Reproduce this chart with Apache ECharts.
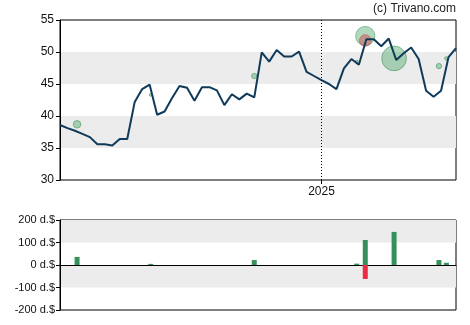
<!DOCTYPE html>
<html>
<head>
<meta charset="utf-8">
<script src="https://cdn.jsdelivr.net/npm/echarts@6/dist/echarts.min.js"></script>
<style>
html,body{margin:0;padding:0;background:#fff;}
#c{width:470px;height:325px;}
</style>
</head>
<body>
<div id="c"></div>
<script>
// Weekly closing prices (one point per week)
const prices = [38.6,38.1,37.7,37.2,36.7,35.6,35.6,35.4,36.4,36.4,
  42.2,44.2,44.9,40.2,40.7,42.8,44.7,44.4,42.4,44.5,
  44.5,44.0,41.7,43.4,42.6,43.5,42.9,49.95,48.5,50.3,
  49.3,49.3,50.05,46.9,46.25,45.6,45.0,44.2,47.45,48.9,
  48.0,52.0,52.0,50.9,52.1,48.75,49.8,50.7,48.9,43.95,
  43.0,43.95,49.2,50.6];
const weekDays = prices.map((p, i) => i * 7); // day offset of each weekly point
const yearStartDay = 245; // 1 Jan 2025
const yearLabel = '2025';

// Insider trades: day offset, price, amount (d.$)
const buyDays    = [16, 85, 182, 278, 286, 313, 355, 362];
const buyPrices  = [38.7, 43.3, 46.25, 48.5, 52.5, 49.0, 47.8, 49.0];
const buyAmounts = [36, 5, 22, 6, 111, 147, 22, 10];
const sellDays    = [286];
const sellPrices  = [51.8];
const sellAmounts = [-62];

const priceTicks = [30, 55, 5];
const volTicks = [-200, 200, 100];

const lineData = weekDays.map((d, i) => [d, prices[i]]);
const buyBubbles = buyDays.map((d, i) => [d, buyPrices[i], buyAmounts[i]]);
const sellBubbles = sellDays.map((d, i) => [d, sellPrices[i], sellAmounts[i]]);
const buyBars = buyDays.map((d, i) => [d, buyAmounts[i]]);
const sellBars = sellDays.map((d, i) => [d, sellAmounts[i]]);

const bubbleSize = v => 2 + Math.abs(v[2]) * 0.155;
const maxDay = weekDays[weekDays.length - 1];
const font = 'Liberation Sans, Arial, sans-serif';

const chart = echarts.init(document.getElementById('c'), null, {renderer: 'canvas'});
chart.setOption({
  animation: false,
  backgroundColor: '#fff',
  graphic: [{
    type: 'text', right: 14, top: 3,
    style: {text: '(c) Trivano.com', font: '12px ' + font, fill: '#222'}
  }],
  grid: [
    {left: 60, right: 14, top: 20, height: 160, show: true, borderColor: '#000', borderWidth: 1},
    {left: 60, right: 14, top: 220, height: 90, show: true, borderColor: '#000', borderWidth: 1}
  ],
  xAxis: [
    {type: 'value', gridIndex: 0, min: 0, max: maxDay,
     axisLine: {show: false}, splitLine: {show: false},
     axisTick: {show: true, length: 4, lineStyle: {color: '#000'}, customValues: [yearStartDay]},
     axisLabel: {fontSize: 12, fontFamily: font, color: '#111', margin: 6,
       customValues: [yearStartDay],
       formatter: v => v === yearStartDay ? yearLabel : ''}},
    {type: 'value', gridIndex: 1, min: 0, max: maxDay,
     axisLine: {show: true, onZero: true, lineStyle: {color: '#000', width: 1}},
     axisTick: {show: false}, axisLabel: {show: false}, splitLine: {show: false}}
  ],
  yAxis: [
    {type: 'value', gridIndex: 0, min: priceTicks[0], max: priceTicks[1], interval: priceTicks[2],
     axisLine: {show: true, lineStyle: {color: '#000'}},
     axisTick: {show: true, length: 4, lineStyle: {color: '#000'}},
     axisLabel: {fontSize: 12, fontFamily: font, color: '#111', margin: 6},
     splitLine: {show: false},
     splitArea: {show: true, areaStyle: {color: ['rgba(0,0,0,0)', '#ececec']}}},
    {type: 'value', gridIndex: 1, min: volTicks[0], max: volTicks[1], interval: volTicks[2],
     axisLine: {show: true, lineStyle: {color: '#000'}},
     axisTick: {show: true, length: 4, lineStyle: {color: '#000'}},
     axisLabel: {fontSize: 11, fontFamily: font, color: '#111', margin: 5,
       formatter: v => v + ' d.$'},
     splitLine: {show: false},
     splitArea: {show: true, areaStyle: {color: ['rgba(0,0,0,0)', '#ececec']}}}
  ],
  series: [
    {type: 'scatter', xAxisIndex: 0, yAxisIndex: 0, data: buyBubbles, z: 2,
     symbolSize: bubbleSize,
     itemStyle: {color: 'rgba(60,160,90,0.5)', borderColor: 'rgba(40,130,70,0.6)', borderWidth: 1}},
    {type: 'scatter', xAxisIndex: 0, yAxisIndex: 0, data: sellBubbles, z: 3,
     symbolSize: bubbleSize,
     itemStyle: {color: 'rgba(220,40,60,0.5)', borderColor: 'rgba(190,30,50,0.5)', borderWidth: 1}},
    {type: 'line', xAxisIndex: 0, yAxisIndex: 0, data: lineData, z: 4,
     showSymbol: false, symbol: 'none',
     lineStyle: {color: '#0f3a5a', width: 2},
     markLine: {silent: true, symbol: 'none', label: {show: false},
       lineStyle: {color: '#000', type: [1, 2], width: 1},
       data: [{xAxis: yearStartDay}]}},
    {type: 'bar', xAxisIndex: 1, yAxisIndex: 1, data: buyBars, stack: 'v', barWidth: 5,
     itemStyle: {color: '#35915a'}},
    {type: 'bar', xAxisIndex: 1, yAxisIndex: 1, data: sellBars, stack: 'v', barWidth: 5,
     itemStyle: {color: '#ee2a40'}}
  ]
});
</script>
</body>
</html>
